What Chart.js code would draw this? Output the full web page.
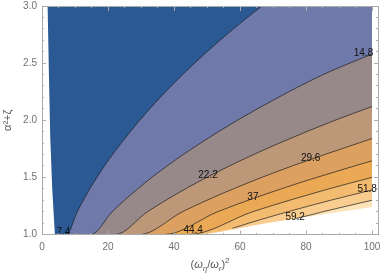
<!DOCTYPE html>
<html>
<head>
<meta charset="utf-8">
<script src="https://cdn.jsdelivr.net/npm/chart.js@4.4.0/dist/chart.umd.min.js"></script>
<style>
  html, body { margin: 0; padding: 0; background: #fff; }
</style>
</head>
<body>
<canvas id="grafico" width="382" height="280"></canvas>
<script>
// contour levels and the fill colour of each band (lowest first)
const levels = [7.4, 14.8, 22.2, 29.6, 37, 44.4, 51.8, 59.2];
const bandColors = ['#2b5993', '#6f7aab', '#978889', '#bd9878', '#dca060', '#eca955', '#f3bb6f', '#f8cd8f', '#fce3b8'];

// contour lines, [x, y]
const c74 = [[7.4, 1.0], [10.7, 1.2], [14.5, 1.4], [18.9, 1.6], [24.0, 1.8], [29.6, 2.0], [35.8, 2.2], [42.6, 2.4], [50.0, 2.6], [58.0, 2.8], [66.6, 3.0]];
const c148 = [[14.8, 1.0], [21.3, 1.2], [29.0, 1.4], [37.9, 1.6], [48.0, 1.8], [59.2, 2.0], [71.6, 2.2], [85.2, 2.4], [100, 2.58]];
const c222 = [[22.2, 1.0], [32.0, 1.2], [43.5, 1.4], [56.8, 1.6], [71.9, 1.8], [88.8, 2.0], [100, 2.12]];
const c296 = [[29.6, 1.0], [42.6, 1.2], [58.0, 1.4], [75.8, 1.6], [95.9, 1.8], [100, 1.84]];
const c37 = [[37.0, 1.0], [53.3, 1.2], [72.5, 1.4], [94.7, 1.6], [100, 1.645]];
const c444 = [[44.4, 1.0], [63.9, 1.2], [87.0, 1.4], [100, 1.5]];
const c518 = [[57.7, 1.055], [62.7, 1.1], [74.6, 1.2], [87.5, 1.3], [100, 1.39]];
const c592 = [[76.9, 1.14], [85.2, 1.2], [100, 1.3]];
const contours = [c74, c148, c222, c296, c37, c444, c518, c592];

// where each level's label sits
const labelX = [6.5, 97.4, 50.3, 81.4, 63.9, 45.8, 98.5, 76.7];
const labelY = [1.018, 2.584, 1.516, 1.67, 1.328, 1.035, 1.394, 1.149];

// edges of the blank parts of the plot
const leftEdge = [[3.9, 1.0], [3.1, 1.4], [2.5, 1.85], [2.1, 2.4], [1.7, 3.0]];
const floorEdge = [[0, 1.0], [45, 1.0], [70, 1.11], [100, 1.24]];

// axes
const xMax = 101.8;
const xMajor = [0, 20, 40, 60, 80, 100];
const xMinor = [5, 10, 15, 25, 30, 35, 45, 50, 55, 65, 70, 75, 85, 90, 95];
const yMajor = [1, 1.5, 2, 2.5, 3];
const yMinor = [1.1, 1.2, 1.3, 1.4, 1.6, 1.7, 1.8, 1.9, 2.1, 2.2, 2.3, 2.4, 2.6, 2.7, 2.8, 2.9];

const frameColor = '#ababab';
const lineColor = 'rgba(30,30,30,0.7)';

Chart.defaults.font.family = '"Liberation Sans", Arial, sans-serif';

function pts(arr) {
  return arr.map(p => ({ x: p[0], y: p[1] }));
}

function fixedTicks(values) {
  return s => { s.ticks = values.map(v => ({ value: v })); };
}

function noPad(s) {
  s.paddingLeft = s.paddingRight = s.paddingTop = s.paddingBottom = 0;
}

function tickAxis(axis, position, min, max, values, len, border) {
  return {
    type: 'linear', axis: axis, position: position, min: min, max: max,
    afterBuildTicks: fixedTicks(values),
    afterFit: noPad,
    ticks: { display: false },
    grid: { drawOnChartArea: false, tickLength: len, tickColor: frameColor, z: 1 },
    border: { display: border, color: frameColor, z: 1 }
  };
}

function buildDatasets() {
  const strokes = [];
  const fills = [];
  // white area on the left
  const leftShape = [[0, 1]].concat(leftEdge, [[0, 3]]);
  fills.push({
    data: pts(leftShape), fill: 'shape', backgroundColor: '#ffffff',
    borderWidth: 0, pointRadius: 0, tension: 0
  });
  // one band per level: everything above-left of that contour
  contours.forEach((c, i) => {
    const base = floorEdge.filter(p => p[0] < c[0][0]);
    const n = base.length;
    const line = pts(base.concat(c));
    fills.push({
      data: line, fill: 'end', backgroundColor: bandColors[i],
      borderWidth: 0, cubicInterpolationMode: 'monotone', pointRadius: 0
    });
    strokes.push({
      data: line, fill: false, borderColor: lineColor, borderWidth: 1,
      segment: { borderColor: s => s.p1DataIndex <= n ? 'rgba(0,0,0,0)' : undefined },
      cubicInterpolationMode: 'monotone', pointRadius: 0
    });
  });
  // whole domain, highest band
  fills.push({
    data: pts(floorEdge), fill: 'end', backgroundColor: bandColors[levels.length],
    borderWidth: 0, pointRadius: 0, tension: 0
  });
  return strokes.concat(fills);
}

const contourLabels = {
  id: 'contourLabels',
  afterDatasetsDraw(chart) {
    const { ctx } = chart;
    const x = chart.scales.x, y = chart.scales.y;
    ctx.save();
    ctx.font = '10px "Liberation Sans", Arial, sans-serif';
    ctx.fillStyle = '#111';
    ctx.textAlign = 'center';
    ctx.textBaseline = 'middle';
    levels.forEach((lv, i) => {
      ctx.fillText(String(lv), x.getPixelForValue(labelX[i]), y.getPixelForValue(labelY[i]));
    });
    ctx.restore();
  }
};

// x title with sub/superscripts: (ω_η/ω_r)^2
const xTitle = {
  id: 'xTitle',
  afterDraw(chart) {
    const { ctx, chartArea } = chart;
    const fam = '"Liberation Sans", Arial, sans-serif';
    const parts = [
      ['(', 11, 0, ''], ['ω', 11, 0, 'italic '], ['η', 8, 3, 'italic '], ['/', 11, 0, ''],
      ['ω', 11, 0, 'italic '], ['r', 8, 3, 'italic '], [')', 11, 0, ''], ['2', 8, -5, '']
    ];
    ctx.save();
    ctx.fillStyle = '#555';
    ctx.textBaseline = 'alphabetic';
    ctx.textAlign = 'left';
    let total = 0;
    parts.forEach(p => { ctx.font = p[3] + p[1] + 'px ' + fam; total += ctx.measureText(p[0]).width; });
    let px = (chartArea.left + chartArea.right) / 2 - total / 2;
    const base = chartArea.bottom + 33.5;
    parts.forEach(p => {
      ctx.font = p[3] + p[1] + 'px ' + fam;
      ctx.fillText(p[0], px, base + p[2]);
      px += ctx.measureText(p[0]).width;
    });
    ctx.restore();
  }
};

window.onload = () => {
  const ctx = document.getElementById('grafico').getContext('2d');
  new Chart(ctx, {
    type: 'line',
    data: { datasets: buildDatasets() },
    options: {
      responsive: false,
      animation: false,
      events: [],
      layout: { padding: { left: 0, right: 4, top: 6, bottom: 0 } },
      plugins: { legend: { display: false }, tooltip: { enabled: false } },
      scales: {
        x: {
          type: 'linear', position: 'bottom', min: 0, max: xMax,
          afterBuildTicks: fixedTicks(xMajor),
          afterFit: s => { noPad(s); s.height = 45.5; },
          ticks: { autoSkip: false, maxRotation: 0, color: '#707070', font: { size: 10 }, padding: 11, callback: v => String(v) },
          grid: { drawOnChartArea: false, tickLength: -4, tickColor: frameColor, z: 1 },
          border: { color: frameColor, z: 1 }
        },
        y: {
          type: 'linear', position: 'left', min: 1, max: 3,
          afterBuildTicks: fixedTicks(yMajor),
          afterFit: s => { noPad(s); s.width = 42; },
          ticks: { autoSkip: false, color: '#707070', font: { size: 10 }, padding: 9, callback: v => v.toFixed(1) },
          grid: { drawOnChartArea: false, tickLength: -4, tickColor: frameColor, z: 1 },
          border: { color: frameColor, z: 1 },
          title: { display: true, text: 'α²+ζ', color: '#555', font: { size: 11 }, padding: { top: 1, bottom: 0 } }
        },
        xMinorB: tickAxis('x', { y: 1 }, 0, xMax, xMinor, -2, false),
        xTop: tickAxis('x', { y: 3 }, 0, xMax, xMajor, 4, true),
        xMinorT: tickAxis('x', { y: 3 }, 0, xMax, xMinor, 2, false),
        yMinorL: tickAxis('y', { x: 0 }, 1, 3, yMinor, -2, false),
        yRight: tickAxis('y', { x: xMax }, 1, 3, yMajor, 4, true),
        yMinorR: tickAxis('y', { x: xMax }, 1, 3, yMinor, 2, false)
      }
    },
    plugins: [contourLabels, xTitle]
  });
};
</script>
</body>
</html>
